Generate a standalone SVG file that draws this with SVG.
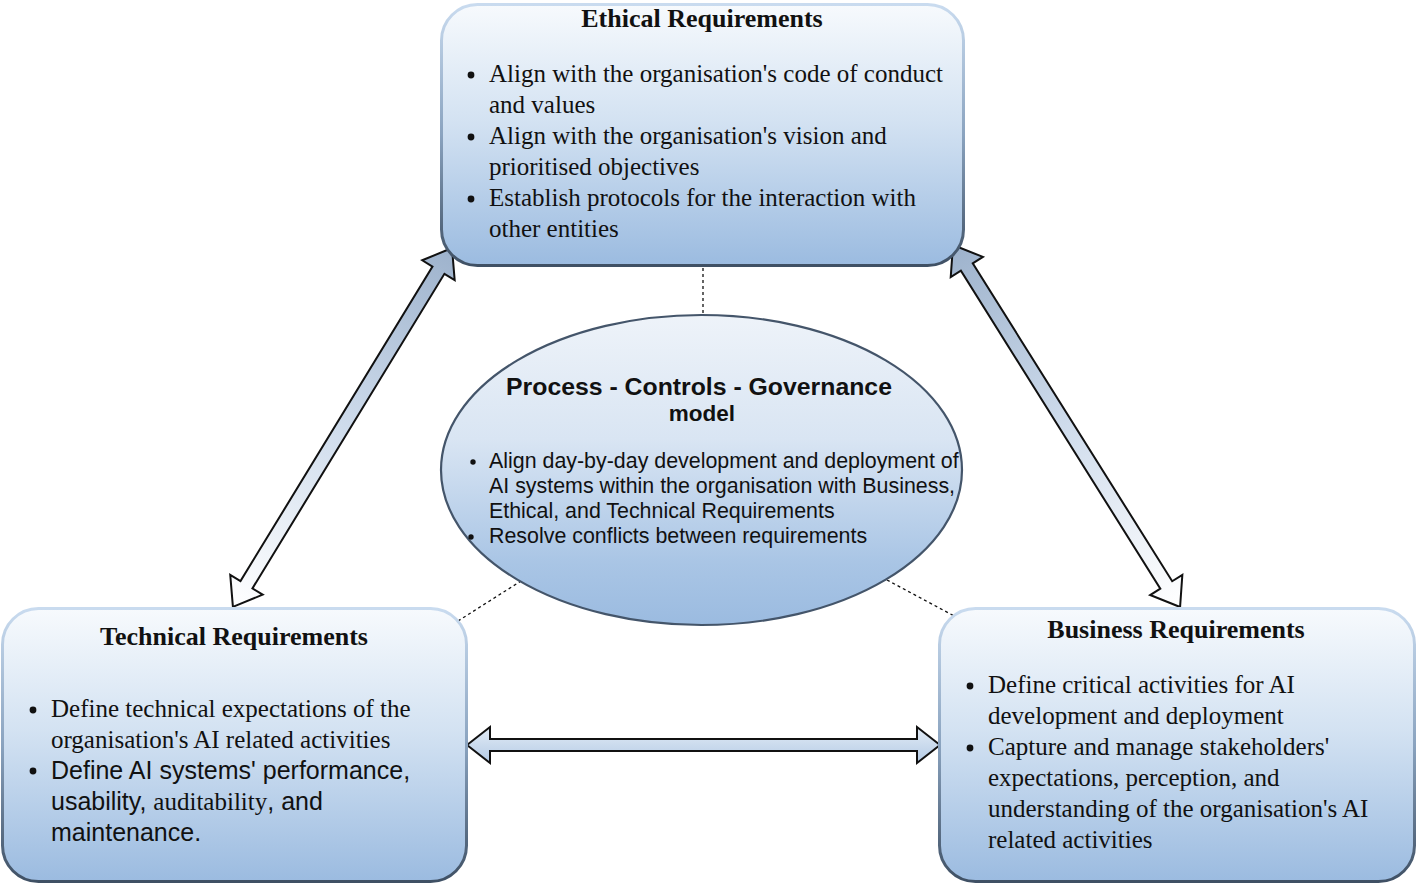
<svg xmlns="http://www.w3.org/2000/svg" width="1417" height="884" viewBox="0 0 1417 884">
<defs>
<linearGradient id="boxFill" x1="0" y1="0" x2="0" y2="1">
<stop offset="0" stop-color="#f7fafd"/>
<stop offset="0.45" stop-color="#d3e2f2"/>
<stop offset="1" stop-color="#9bbbe0"/>
</linearGradient>
<linearGradient id="boxStroke" x1="0" y1="0" x2="0" y2="1">
<stop offset="0" stop-color="#c9dbef"/>
<stop offset="0.5" stop-color="#8aa3bf"/>
<stop offset="1" stop-color="#3f5064"/>
</linearGradient>
<linearGradient id="ellFill" x1="0" y1="0" x2="0" y2="1">
<stop offset="0" stop-color="#eef3f9"/>
<stop offset="0.4" stop-color="#d9e5f3"/>
<stop offset="0.8" stop-color="#a9c5e5"/>
<stop offset="1" stop-color="#9bbbe0"/>
</linearGradient>
<linearGradient id="arrDiag" x1="0" y1="0" x2="1" y2="0">
<stop offset="0" stop-color="#9db2cc"/>
<stop offset="0.5" stop-color="#cfdcec"/>
<stop offset="1" stop-color="#ffffff"/>
</linearGradient>
<linearGradient id="arrHoriz" x1="0" y1="0" x2="0" y2="1">
<stop offset="0" stop-color="#e3ecf6"/>
<stop offset="1" stop-color="#b3cae5"/>
</linearGradient>
<style>
.box{fill:url(#boxFill);stroke:url(#boxStroke);stroke-width:3}
.ell{fill:url(#ellFill);stroke:#44556a;stroke-width:2.2}
.arrow{stroke:#111;stroke-width:2;stroke-linejoin:miter}
.dot{stroke:#111;stroke-width:1.3;stroke-dasharray:3 3;fill:none}
.ttl{font-family:"Liberation Serif","Times New Roman",serif;font-weight:bold;font-size:26px;fill:#111;text-anchor:middle}
.ser{font-family:"Liberation Serif","Times New Roman",serif;font-size:25px;fill:#111}
.san{font-family:"Liberation Sans",Arial,sans-serif;font-size:21.4px;fill:#111}
.san2{font-family:"Liberation Sans",Arial,sans-serif;font-size:25px;fill:#111}
.pt{font-family:"Liberation Sans",Arial,sans-serif;font-weight:bold;font-size:24.8px;fill:#111;text-anchor:middle}
</style>
</defs>
<rect width="1417" height="884" fill="#ffffff"/>

<g id="connectors">
<line class="dot" x1="703" y1="268" x2="703" y2="315"/>
<line class="dot" x1="458" y1="621" x2="521" y2="581"/>
<line class="dot" x1="887" y1="580" x2="958" y2="618"/>
<path class="arrow" fill="url(#arrDiag)" transform="translate(452,248) rotate(121.4)" d="M0,0 L26,-19 L26,-7 L394.5,-7 L394.5,-19 L420.5,0 L394.5,19 L394.5,7 L26,7 L26,19 Z"/>
<path class="arrow" fill="url(#arrDiag)" transform="translate(953,245) rotate(57.9)" d="M0,0 L26,-19 L26,-7 L401.3,-7 L401.3,-19 L427.3,0 L401.3,19 L401.3,7 L26,7 L26,19 Z"/>
<path class="arrow" fill="url(#arrHoriz)" d="M467,745 L490,727 L490,739 L917,739 L917,727 L940,745 L917,763 L917,751 L490,751 L490,763 Z"/>
</g>

<g id="ethical">
<rect class="box" x="441.5" y="4.5" width="522" height="261" rx="36" ry="36"/>
<text class="ttl" x="702" y="27">Ethical Requirements</text>
<circle cx="471" cy="75" r="3.4" fill="#111"/>
<circle cx="471" cy="137" r="3.4" fill="#111"/>
<circle cx="471" cy="199" r="3.4" fill="#111"/>
<text class="ser" x="489" y="82">Align with the organisation's code of conduct</text>
<text class="ser" x="489" y="113">and values</text>
<text class="ser" x="489" y="144">Align with the organisation's vision and</text>
<text class="ser" x="489" y="175">prioritised objectives</text>
<text class="ser" x="489" y="206">Establish protocols for the interaction with</text>
<text class="ser" x="489" y="237">other entities</text>
</g>

<g id="pcg">
<ellipse class="ell" cx="701.5" cy="470" rx="260.5" ry="155"/>
<text class="pt" x="699" y="395">Process - Controls - Governance</text>
<text class="pt" x="702" y="421" style="font-size:22.5px">model</text>
<circle cx="473" cy="462" r="2.7" fill="#111"/>
<circle cx="471" cy="537" r="2.7" fill="#111"/>
<text class="san" x="489" y="468">Align day-by-day development and deployment of</text>
<text class="san" x="489" y="493">AI systems within the organisation with Business,</text>
<text class="san" x="489" y="518">Ethical, and Technical Requirements</text>
<text class="san" x="489" y="543">Resolve conflicts between requirements</text>
</g>

<g id="technical">
<rect class="box" x="2.5" y="608.5" width="464" height="273" rx="36" ry="36"/>
<text class="ttl" x="234" y="645">Technical Requirements</text>
<circle cx="33" cy="710" r="3.4" fill="#111"/>
<circle cx="33" cy="771" r="3.4" fill="#111"/>
<text class="ser" x="51" y="717">Define technical expectations of the</text>
<text class="ser" x="51" y="748">organisation's AI related activities</text>
<text class="san2" x="51" y="779">Define AI systems' performance,</text>
<text class="san2" x="51" y="810">usability, <tspan class="ser">auditability</tspan>, and</text>
<text class="san2" x="51" y="841">maintenance.</text>
</g>

<g id="business">
<rect class="box" x="939.5" y="608.5" width="475" height="273" rx="36" ry="36"/>
<text class="ttl" x="1176" y="638">Business Requirements</text>
<circle cx="970" cy="686" r="3.4" fill="#111"/>
<circle cx="970" cy="748" r="3.4" fill="#111"/>
<text class="ser" x="988" y="693">Define critical activities for AI</text>
<text class="ser" x="988" y="724">development and deployment</text>
<text class="ser" x="988" y="755">Capture and manage stakeholders'</text>
<text class="ser" x="988" y="786">expectations, perception, and</text>
<text class="ser" x="988" y="817">understanding of the organisation's AI</text>
<text class="ser" x="988" y="848">related activities</text>
</g>
</svg>
